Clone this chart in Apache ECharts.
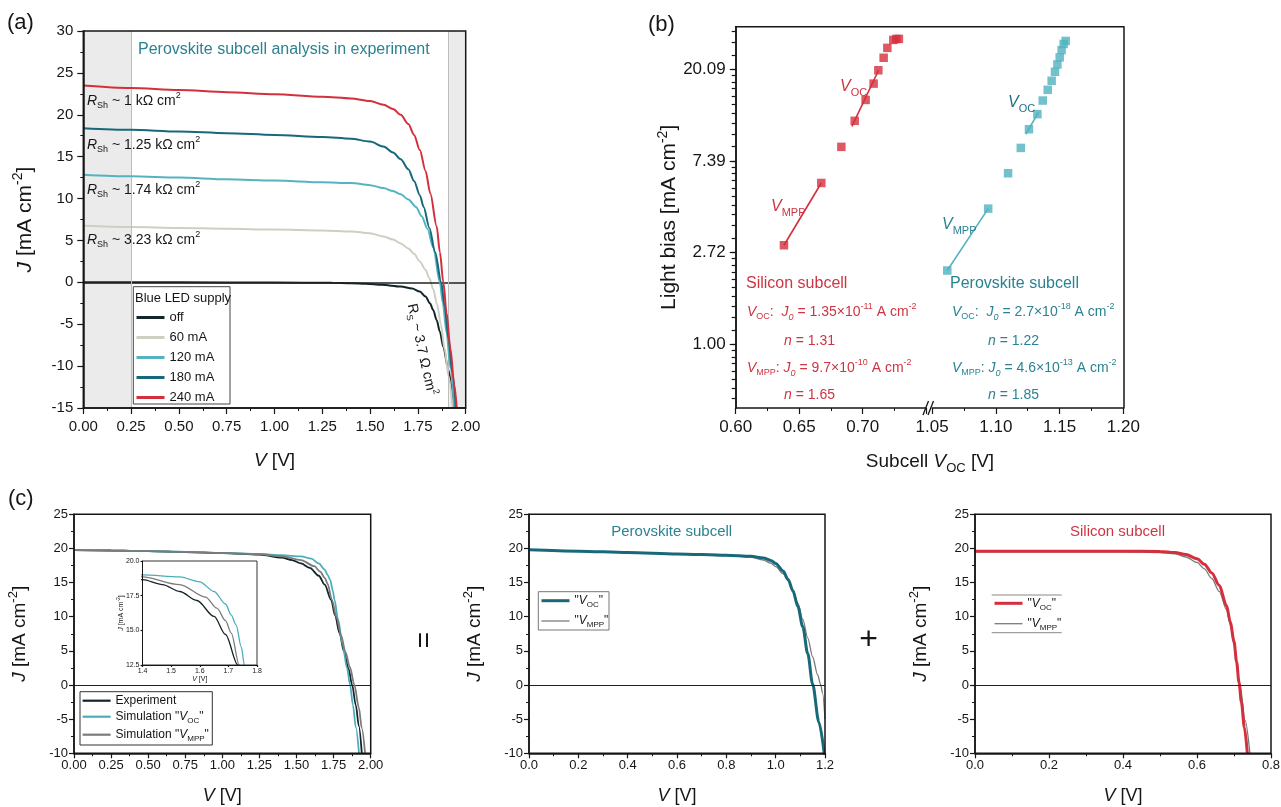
<!DOCTYPE html>
<html lang="en">
<head>
<meta charset="utf-8">
<title>Perovskite/silicon tandem subcell analysis</title>
<script src="https://cdn.jsdelivr.net/npm/echarts@6.0.0/dist/echarts.min.js"></script>
<style>
  html, body { margin: 0; padding: 0; background: #ffffff; }
  #chart { width: 1281px; height: 807px; }
</style>
</head>
<body>
<div id="chart"></div>
<script>
const FONT = '"Liberation Sans", Arial, Helvetica, sans-serif';

// ---------- (a) perovskite subcell J–V under blue LED light bias ----------
const ledLevels = ['off', '60 mA', '120 mA', '180 mA', '240 mA'];
const jvOff = [[0,0],[0.5,0],[1.0,-0.02],[1.3,-0.05],[1.4,-0.1],[1.48,-0.17],[1.56,-0.3],[1.66,-0.5],[1.72,-0.75],[1.76,-1.1],[1.79,-1.7],[1.813,-2.5],[1.83,-3.3],[1.848,-4.5],[1.865,-5.9],[1.883,-7.7],[1.909,-10.4],[1.935,-15]];
const jv60 = [[0,6.75],[0.25,6.6],[0.5,6.5],[0.75,6.4],[1.0,6.3],[1.25,6.2],[1.4,6.08],[1.5,5.85],[1.57,5.48],[1.62,5.1],[1.66,4.65],[1.7,4.05],[1.73,3.4],[1.76,2.5],[1.79,1.5],[1.81,0.5],[1.83,-0.8],[1.85,-2.6],[1.87,-5.0],[1.89,-8.0],[1.91,-11.2],[1.932,-15]];
const jv120 = [[0,12.85],[0.25,12.65],[0.5,12.5],[0.75,12.3],[1.0,12.15],[1.25,11.95],[1.4,11.85],[1.5,11.6],[1.57,11.25],[1.62,10.9],[1.66,10.5],[1.7,9.9],[1.74,9.0],[1.77,7.9],[1.8,6.4],[1.83,4.2],[1.865,0],[1.88,-2.4],[1.9,-6.0],[1.92,-10.2],[1.94,-15]];
const jv180 = [[0,18.4],[0.25,18.2],[0.5,18.0],[0.75,17.8],[1.0,17.6],[1.25,17.35],[1.4,17.15],[1.5,16.8],[1.57,16.2],[1.62,15.5],[1.66,14.7],[1.7,13.5],[1.73,12.1],[1.76,10.4],[1.78,9.0],[1.81,6.5],[1.84,3.6],[1.872,0],[1.89,-2.9],[1.91,-6.7],[1.93,-10.8],[1.948,-15]];
const jv240 = [[0,23.5],[0.25,23.2],[0.5,22.95],[0.75,22.7],[1.0,22.45],[1.25,22.15],[1.4,21.95],[1.5,21.65],[1.57,21.2],[1.62,20.7],[1.66,20.0],[1.7,18.9],[1.73,17.6],[1.76,15.8],[1.79,13.3],[1.815,10.6],[1.848,6.7],[1.865,3.6],[1.883,0],[1.9,-3.6],[1.92,-7.9],[1.94,-12.2],[1.953,-15]];
const shadeRanges = [[0, 0.25], [1.914, 2.0]];
const rshValues = ['1', '1.25', '1.74', '3.23'];

// ---------- (b) light bias vs subcell voltage (ln scale) ----------
const biasTicks = [1.00, 2.72, 7.39, 20.09];
const siPoints = [[0.638,2.95],[0.6674,5.82],[0.6832,8.63],[0.6937,11.46],[0.7023,14.4],[0.7086,17.2],[0.7123,19.9],[0.7165,22.8],[0.7194,25.4],[0.7241,27.7],[0.7265,28.0],[0.7285,28.0]];
const siVocFit = [[0.6915,10.8],[0.7125,19.9]];
const siMppFit = [[0.638,2.95],[0.6674,5.82]];
const pvkPoints = [[1.0619,2.24],[1.094,4.40],[1.1096,6.47],[1.1196,8.53],[1.126,10.46],[1.1326,12.33],[1.1368,14.3],[1.1407,16.07],[1.1438,17.74],[1.1464,19.57],[1.1483,21.2],[1.1501,22.9],[1.1516,24.8],[1.1532,26.5],[1.1548,27.4]];
const pvkVocFit = [[1.1235,9.9],[1.1335,12.6]];
const pvkMppFit = [[1.0619,2.24],[1.094,4.40]];

// ---------- (c) tandem = perovskite + silicon ----------
const expTandem = [[0,19.75],[0.25,19.7],[0.5,19.6],[0.75,19.45],[1.0,19.3],[1.25,19.1],[1.4,18.65],[1.47,18.3],[1.53,17.8],[1.59,17.15],[1.65,16.0],[1.69,14.7],[1.733,12.5],[1.76,10.2],[1.79,7.6],[1.82,4.9],[1.85,2.4],[1.875,0],[1.9,-3.0],[1.92,-6.0],[1.94,-10]];
const simVocTandem = [[0,19.75],[0.25,19.7],[0.5,19.6],[0.75,19.5],[1.0,19.35],[1.25,19.2],[1.4,19.0],[1.53,18.85],[1.6,18.5],[1.65,17.8],[1.69,16.9],[1.71,16.1],[1.727,15.4],[1.745,13.8],[1.756,12.5],[1.78,9.6],[1.81,6.0],[1.84,2.5],[1.861,0],[1.88,-2.9],[1.9,-6.2],[1.921,-10]];
const simMppTandem = [[0,19.75],[0.25,19.7],[0.5,19.6],[0.75,19.5],[1.0,19.35],[1.25,19.15],[1.4,18.85],[1.53,18.3],[1.62,17.4],[1.66,16.6],[1.69,15.7],[1.71,14.8],[1.738,12.5],[1.77,9.9],[1.8,7.3],[1.83,4.8],[1.86,2.6],[1.89,0],[1.92,-3.3],[1.94,-6.3],[1.962,-10]];
const pvkVocJV = [[0,19.8],[0.2,19.6],[0.4,19.4],[0.6,19.2],[0.8,19.0],[0.9,18.85],[0.95,18.6],[0.98,18.25],[1.0,17.8],[1.03,16.7],[1.05,15.5],[1.07,13.8],[1.09,11.5],[1.11,8.5],[1.13,4.6],[1.15,0.1],[1.175,-5.4],[1.2,-11]];
const pvkMppJV = [[0,19.8],[0.2,19.6],[0.4,19.4],[0.6,19.2],[0.8,18.95],[0.9,18.7],[0.95,18.3],[0.98,17.85],[1.0,17.35],[1.03,16.3],[1.05,15.3],[1.07,13.9],[1.09,12.0],[1.11,9.6],[1.13,6.9],[1.15,4.1],[1.17,1.5],[1.183,0],[1.19,-1.2],[1.2,-5]];
const siVocJV = [[0,19.6],[0.1,19.6],[0.2,19.6],[0.3,19.6],[0.4,19.6],[0.5,19.55],[0.54,19.4],[0.57,19.1],[0.6,18.5],[0.62,17.7],[0.64,16.4],[0.66,14.6],[0.68,11.6],[0.69,9.2],[0.7,6.4],[0.707,3.4],[0.7135,0.4],[0.72,-2.5],[0.728,-6.2],[0.736,-10]];
const siMppJV = [[0,19.5],[0.1,19.5],[0.2,19.5],[0.3,19.5],[0.4,19.5],[0.5,19.4],[0.54,19.2],[0.57,18.75],[0.6,17.95],[0.62,17.0],[0.64,15.6],[0.66,13.7],[0.68,11.0],[0.69,8.8],[0.7,5.9],[0.716,0],[0.73,-5.2],[0.743,-10]];

// ---------- colours ----------
const INK = '#161616';
const RED = '#d42f3d';
const RED_TEXT = '#cf3442';
const TEAL_DARK = '#17697a';
const TEAL_LIGHT = '#55b3c0';
const TEAL_TEXT = '#2a8292';
const BEIGE = '#cfcec2';
const OFF_BLACK = '#132528';
const GRAY = '#7b7b7b';
const ledColors = [OFF_BLACK, BEIGE, TEAL_LIGHT, TEAL_DARK, RED];

// ---------- plot rectangles ----------
const LAYOUT = {
  a:  { left: 83.3, top: 31, width: 382.4, height: 377 },
  bL: { left: 735.7, top: 26.7, width: 190.5, height: 381.3 },
  bR: { left: 932.1, top: 26.7, width: 191.2, height: 381.3 },
  c1: { left: 74, top: 514.3, width: 296.7, height: 239 },
  ci: { left: 142.5, top: 561, width: 114.5, height: 104 },
  c2: { left: 529, top: 514.3, width: 296, height: 239 },
  c3: { left: 975, top: 514.3, width: 296, height: 239 }
};

// rich text styles: n normal, i italic, sb subscript, isb italic subscript, sp superscript
function richStyles(size, color, key) {
  const s = Math.round(size * 0.66);
  const lh = Math.round(size * 1.35);
  const base = { fontFamily: FONT };
  base[key] = color;
  return {
    n:   Object.assign({}, base, { fontSize: size, lineHeight: lh }),
    i:   Object.assign({}, base, { fontSize: size, lineHeight: lh, fontStyle: 'italic' }),
    sb:  Object.assign({}, base, { fontSize: s, verticalAlign: 'bottom' }),
    isb: Object.assign({}, base, { fontSize: s, verticalAlign: 'bottom', fontStyle: 'italic' }),
    sp:  Object.assign({}, base, { fontSize: s, verticalAlign: 'top' })
  };
}
const ecRich = (size, color) => richStyles(size, color, 'color');
const zrRich = (size, color) => richStyles(size, color, 'fill');

function grid(r, extra) {
  return Object.assign({ left: r.left, top: r.top, width: r.width, height: r.height,
    outerBoundsMode: 'none', containLabel: false }, extra || {});
}
const framed = { show: true, borderColor: INK, borderWidth: 1.5, backgroundColor: 'transparent', z: 10 };

function axis(o) {
  const tick = o.tick || 6;
  const a = {
    type: o.type || 'value', gridIndex: o.g, min: o.min, max: o.max, z: 10,
    axisLine: { show: o.line !== false, onZero: false, lineStyle: { color: INK, width: o.lw || 1.5 } },
    axisTick: { show: o.ticks !== false, length: tick, lineStyle: { color: INK, width: 1.2 } },
    minorTick: { show: !!o.minor, splitNumber: 2, length: Math.round(tick * 0.55), lineStyle: { color: INK, width: 1 } },
    splitLine: { show: false },
    minorSplitLine: { show: false },
    axisLabel: { show: o.labels !== false, fontFamily: FONT, fontSize: o.fs || 15, color: INK, margin: o.margin || 8 }
  };
  if (o.interval !== undefined) a.interval = o.interval;
  if (o.position) a.position = o.position;
  if (o.fmt) a.axisLabel.formatter = o.fmt;
  if (o.logBase) a.logBase = o.logBase;
  if (o.customTicks) a.axisTick.customValues = o.customTicks;
  if (o.customLabels) a.axisLabel.customValues = o.customLabels;
  if (o.name) {
    a.name = o.name;
    a.nameLocation = 'middle';
    a.nameGap = o.nameGap;
    a.nameRotate = o.nameRotate || 0;
    a.nameMoveOverlap = false;
    a.nameTextStyle = { fontFamily: FONT, fontSize: o.nameSize, color: INK,
      lineHeight: Math.round(o.nameSize * 1.35), rich: ecRich(o.nameSize, INK) };
  }
  return a;
}

const jName = '{i|J}{n| [mA cm}{sp|-2}{n|]}';
const vName = '{i|V}{n| [V]}';
const fix = d => v => v.toFixed(d);
const int = v => String(v);

// minor ticks of the ln axis: nine linear steps inside every e-fold
const biasMinor = [];
(function () {
  const edges = [Math.exp(-1)].concat(biasTicks, [Math.exp(4)]);
  for (let k = 0; k < edges.length - 1; k++) {
    const lo = edges[k], hi = edges[k + 1];
    for (let j = 1; j < 10; j++) biasMinor.push(+(lo + (hi - lo) * j / 10).toFixed(4));
  }
})();
const biasAllTicks = biasTicks.concat(biasMinor).sort((p, q) => p - q);

const xAxes = [
  axis({ g: 0, min: 0, max: 2, interval: 0.25, minor: true, fs: 15, margin: 11, fmt: fix(2),
         name: vName, nameGap: 40, nameSize: 19 }),
  axis({ g: 1, min: 0.6, max: 0.75, interval: 0.05, minor: true, fs: 17, margin: 11,
         fmt: v => (v > 0.745 ? '' : v.toFixed(2)) }),
  axis({ g: 2, min: 1.05, max: 1.2, interval: 0.05, minor: true, fs: 17, margin: 11, fmt: fix(2) }),
  axis({ g: 3, min: 0, max: 2, interval: 0.25, minor: true, tick: 5, fs: 13, margin: 6, fmt: fix(2),
         name: vName, nameGap: 31, nameSize: 18 }),
  axis({ g: 4, min: 1.4, max: 1.8, interval: 0.1, tick: 2, lw: 1, fs: 7, margin: 3, fmt: fix(1),
         name: vName, nameGap: 10, nameSize: 7 }),
  axis({ g: 5, min: 0, max: 1.2, interval: 0.2, minor: true, tick: 5, fs: 13, margin: 6, fmt: fix(1),
         name: vName, nameGap: 31, nameSize: 18 }),
  axis({ g: 6, min: 0, max: 0.8, interval: 0.2, minor: true, tick: 5, fs: 13, margin: 6, fmt: fix(1),
         name: vName, nameGap: 31, nameSize: 18 })
];

const yAxes = [
  axis({ g: 0, min: -15, max: 30, interval: 5, minor: true, fs: 15, margin: 10, fmt: int,
         name: jName, nameGap: 44, nameRotate: 90, nameSize: 21 }),
  // ln axis: labelled ticks at e^0 … e^3
  axis({ g: 1, type: 'log', logBase: Math.E, min: 0.5, max: 32, position: 'left', fs: 17, margin: 10,
         customTicks: biasTicks, customLabels: biasTicks, fmt: fix(2),
         name: '{n|Light bias [mA cm}{sp|-2}{n|]}', nameGap: 52, nameRotate: 90, nameSize: 21 }),
  // same ln axis carrying the short minor ticks
  axis({ g: 1, type: 'log', logBase: Math.E, min: 0.5, max: 32, position: 'left', tick: 4,
         labels: false, customTicks: biasAllTicks, customLabels: [] }),
  axis({ g: 2, type: 'log', logBase: Math.E, min: 0.5, max: 32, position: 'right',
         ticks: false, labels: false, customTicks: biasTicks, customLabels: [] }),
  axis({ g: 3, min: -10, max: 25, interval: 5, minor: true, tick: 5, fs: 13, margin: 6, fmt: int,
         name: jName, nameGap: 41, nameRotate: 90, nameSize: 19 }),
  axis({ g: 4, min: 12.5, max: 20, interval: 2.5, tick: 2, lw: 1, fs: 7, margin: 3, fmt: fix(1),
         name: jName, nameGap: 17, nameRotate: 90, nameSize: 7 }),
  axis({ g: 5, min: -10, max: 25, interval: 5, minor: true, tick: 5, fs: 13, margin: 6, fmt: int,
         name: jName, nameGap: 41, nameRotate: 90, nameSize: 19 }),
  axis({ g: 6, min: -10, max: 25, interval: 5, minor: true, tick: 5, fs: 13, margin: 6, fmt: int,
         name: jName, nameGap: 41, nameRotate: 90, nameSize: 19 })
];

function curve(name, data, xi, yi, color, width, z) {
  return { name, type: 'line', xAxisIndex: xi, yAxisIndex: yi, data, symbol: 'none',
    smooth: 0.3, smoothMonotone: 'x', clip: true, z: z || 3,
    lineStyle: { color, width }, itemStyle: { color }, emphasis: { disabled: true } };
}
const zeroLine = (w) => ({ silent: true, symbol: ['none', 'none'], label: { show: false },
  lineStyle: { color: '#222', width: w, type: 'solid' }, emphasis: { disabled: true }, data: [{ yAxis: 0 }] });

const series = [];
// (a)
[jvOff, jv60, jv120, jv180, jv240].forEach((d, k) => {
  series.push(curve(ledLevels[k], d, 0, 0, ledColors[k], 2, 3 + k));
});
series[0].markArea = { silent: true, itemStyle: { color: '#ebebeb', borderWidth: 0 },
  data: shadeRanges.map(r => [{ xAxis: r[0] }, { xAxis: r[1] }]) };
series[0].markLine = zeroLine(1.6);
series[1].markLine = { silent: true, symbol: ['none', 'none'], label: { show: false },
  lineStyle: { color: '#bdbdbd', width: 1, type: 'solid' },
  data: [{ xAxis: shadeRanges[0][1] }, { xAxis: shadeRanges[1][0] }] };

// (b)
function fitLine(data, xi, yi, color) {
  return { type: 'line', xAxisIndex: xi, yAxisIndex: yi, data, symbol: 'none', z: 3,
    lineStyle: { color, width: 1.6 }, emphasis: { disabled: true } };
}
function squares(data, xi, yi, color) {
  return { type: 'scatter', xAxisIndex: xi, yAxisIndex: yi, data, symbol: 'rect', symbolSize: 8.5,
    z: 4, itemStyle: { color }, emphasis: { disabled: true } };
}
series.push(fitLine(siVocFit, 1, 1, RED), fitLine(siMppFit, 1, 1, RED), squares(siPoints, 1, 1, RED));
series.push(fitLine(pvkVocFit, 2, 3, TEAL_LIGHT), fitLine(pvkMppFit, 2, 3, TEAL_LIGHT), squares(pvkPoints, 2, 3, '#4fb2bf'));

// (c) tandem and its inset
const SIM_TEAL = '#4aaebb';
const c1 = [
  ['Experiment', expTandem, OFF_BLACK],
  ['Simulation "VOC"', simVocTandem, SIM_TEAL],
  ['Simulation "VMPP"', simMppTandem, GRAY]
];
c1.forEach((s, k) => series.push(curve(s[0], s[1], 3, 4, s[2], 1.8, 3 + k)));
series[series.length - 3].markLine = zeroLine(1);
c1.forEach((s, k) => series.push(curve(s[0], s[1], 4, 5, s[2], 1.3, 3 + k)));
// (c) perovskite subcell
series.push(curve('Perovskite "VMPP"', pvkMppJV, 5, 6, GRAY, 1.3, 3));
series.push(curve('Perovskite "VOC"', pvkVocJV, 5, 6, TEAL_DARK, 3, 4));
series[series.length - 2].markLine = zeroLine(1);
// (c) silicon subcell
series.push(curve('Silicon "VMPP"', siMppJV, 6, 7, GRAY, 1.3, 3));
series.push(curve('Silicon "VOC"', siVocJV, 6, 7, RED, 3, 4));
series[series.length - 2].markLine = zeroLine(1);

// ---------- legends ----------
const LEGEND_TEXT = {
  'Experiment': '{n|Experiment}',
  'Simulation "VOC"': '{n|Simulation "}{i|V}{sb|OC}{n|"}',
  'Simulation "VMPP"': '{n|Simulation "}{i|V}{sb|MPP}{n|"}',
  'Perovskite "VOC"': '{n|"}{i|V}{sb|OC}{n|"}',
  'Perovskite "VMPP"': '{n|"}{i|V}{sb|MPP}{n|"}',
  'Silicon "VOC"': '{n|"}{i|V}{sb|OC}{n|"}',
  'Silicon "VMPP"': '{n|"}{i|V}{sb|MPP}{n|"}'
};
function legend(left, top, names, widths, size, gap) {
  return {
    orient: 'vertical', left, top, padding: 0, itemGap: gap, itemWidth: 28, itemHeight: 12,
    selectedMode: false, backgroundColor: 'transparent', borderWidth: 0,
    itemStyle: { opacity: 0, borderWidth: 0 },
    data: names.map((n, k) => ({ name: n, lineStyle: { width: widths[k] } })),
    formatter: n => LEGEND_TEXT[n] || ('{n|' + n + '}'),
    textStyle: { fontFamily: FONT, fontSize: size, color: INK, rich: ecRich(size, INK) }
  };
}
const legends = [
  legend(135, 311, ledLevels, [3, 3, 3, 3, 3], 13, 7),
  legend(81.5, 694.7, ['Experiment', 'Simulation "VOC"', 'Simulation "VMPP"'], [2.2, 2.2, 2.2], 12, 4),
  legend(540, 594.7, ['Perovskite "VOC"', 'Perovskite "VMPP"'], [3, 1.3], 12, 6.3),
  legend(993, 597.3, ['Silicon "VOC"', 'Silicon "VMPP"'], [3, 1.3], 12, 6.4)
];

// ---------- annotations ----------
const G = [];
function txt(x, y, text, size, fill, extra) {
  G.push(Object.assign({
    type: 'text', x, y, silent: true, z: 20,
    style: { text, fontSize: size, fontFamily: FONT, fill, align: 'left', verticalAlign: 'middle',
             lineHeight: Math.round(size * 1.35), rich: zrRich(size, fill) }
  }, extra || {}));
}
function centered(x, y, text, size, fill, rotation) {
  txt(x, y, text, size, fill, { rotation: rotation || 0 });
  G[G.length - 1].style.align = 'center';
}
function line(x1, y1, x2, y2, stroke, w) {
  G.push({ type: 'line', silent: true, z: 20, shape: { x1, y1, x2, y2 }, style: { stroke, lineWidth: w } });
}
function box(x, y, w, h, stroke) {
  G.push({ type: 'rect', silent: true, z: 20, shape: { x, y, width: w, height: h },
           style: { fill: 'none', stroke, lineWidth: 1 } });
}

// panel letters
txt(7, 23, '{n|(a)}', 22, INK);
txt(648, 25, '{n|(b)}', 22, INK);
txt(8, 499, '{n|(c)}', 22, INK);

// (a)
txt(138, 49.5, '{n|Perovskite subcell analysis in experiment}', 16, TEAL_TEXT);
[101, 145, 190, 240].forEach((y, k) => {
  txt(87, y, '{i|R}{sb|Sh}{n| ~ ' + rshValues[k] + ' kΩ cm}{sp|2}', 14, INK);
});
centered(421.5, 349.5, '{n|R}{sb|S}{n| ~ 3.7 Ω cm}{sp|2}', 14, INK, -1.354);
box(133.3, 286.7, 96.7, 117.3, '#444');
txt(135, 298.5, '{n|Blue LED supply}', 13, INK);

// (b)
const bTop = LAYOUT.bL.top, bBottom = LAYOUT.bL.top + LAYOUT.bL.height;
const bRight = LAYOUT.bR.left + LAYOUT.bR.width;
line(LAYOUT.bL.left - 0.75, bTop, bRight + 0.75, bTop, INK, 1.5);
line(923, bBottom + 7, 928.5, bBottom - 7, INK, 1.3);
line(928, bBottom + 7, 933.5, bBottom - 7, INK, 1.3);
centered(930, 462, '{n|Subcell }{i|V}{sb|OC}{n| [V]}', 19, INK);

txt(840, 87, '{i|V}{sb|OC}', 16, RED_TEXT);
txt(771, 207, '{i|V}{sb|MPP}', 16, RED_TEXT);
txt(1008, 103, '{i|V}{sb|OC}', 16, '#1f6f80');
txt(942, 225, '{i|V}{sb|MPP}', 16, TEAL_TEXT);

txt(746, 284, '{n|Silicon subcell}', 16, RED_TEXT);
txt(747, 312, '{i|V}{sb|OC}{n|:  }{i|J}{isb|0}{n| = 1.35×10}{sp|-11}{n| A cm}{sp|-2}', 14, RED_TEXT);
txt(784, 341, '{i|n}{n| = 1.31}', 14, RED_TEXT);
txt(747, 368, '{i|V}{sb|MPP}{n|: }{i|J}{isb|0}{n| = 9.7×10}{sp|-10}{n| A cm}{sp|-2}', 14, RED_TEXT);
txt(784, 395, '{i|n}{n| = 1.65}', 14, RED_TEXT);

txt(950, 284, '{n|Perovskite subcell}', 16, TEAL_TEXT);
txt(952, 312, '{i|V}{sb|OC}{n|:  }{i|J}{isb|0}{n| = 2.7×10}{sp|-18}{n| A cm}{sp|-2}', 14, TEAL_TEXT);
txt(988, 341, '{i|n}{n| = 1.22}', 14, TEAL_TEXT);
txt(952, 368, '{i|V}{sb|MPP}{n|: }{i|J}{isb|0}{n| = 4.6×10}{sp|-13}{n| A cm}{sp|-2}', 14, TEAL_TEXT);
txt(988, 395, '{i|n}{n| = 1.85}', 14, TEAL_TEXT);

// (c)
centered(671.7, 531.7, '{n|Perovskite subcell}', 15, TEAL_TEXT);
centered(1117.5, 531.7, '{n|Silicon subcell}', 15, RED_TEXT);
centered(425, 640, '{n|=}', 28, INK, Math.PI / 2);
centered(868.5, 640, '{n|+}', 32, INK);
box(80, 691.7, 132.3, 53.3, '#333');
box(538.3, 591.7, 70.7, 38.3, '#777');
line(991.7, 595, 1061.7, 595, '#888', 1);
line(991.7, 632.7, 1061.7, 632.7, '#888', 1);

const option = {
  animation: false,
  backgroundColor: '#ffffff',
  textStyle: { fontFamily: FONT },
  grid: [
    grid(LAYOUT.a, framed),
    grid(LAYOUT.bL),
    grid(LAYOUT.bR),
    grid(LAYOUT.c1, framed),
    grid(LAYOUT.ci, { show: true, borderColor: '#333', borderWidth: 1, backgroundColor: 'transparent', z: 10 }),
    grid(LAYOUT.c2, framed),
    grid(LAYOUT.c3, framed)
  ],
  xAxis: xAxes,
  yAxis: yAxes,
  legend: legends,
  series,
  graphic: { elements: G }
};

const chart = echarts.init(document.getElementById('chart'), null, { renderer: 'canvas', width: 1281, height: 807 });
chart.setOption(option);
</script>
</body>
</html>
